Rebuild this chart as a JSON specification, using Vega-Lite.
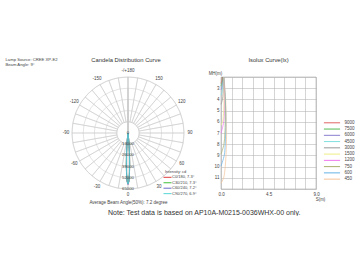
{
  "$schema": "https://vega.github.io/schema/vega-lite/v6.json",
  "background": "white",
  "padding": {"left": 5, "top": 56, "right": 0, "bottom": 0},
  "config": {
    "font": "Liberation Sans",
    "view": {"stroke": null},
    "axis": {"labelFont": "Liberation Sans", "titleFont": "Liberation Sans", "labelColor": "#444", "titleColor": "#444", "titleFontWeight": "normal"},
    "legend": {"labelFont": "Liberation Sans", "titleFont": "Liberation Sans", "labelColor": "#444", "titleColor": "#444", "titleFontWeight": "normal"},
    "title": {"font": "Liberation Sans", "fontWeight": "normal", "color": "#333"}
  },
  "title": {"text": "Note:  Test data is based on AP10A-M0215-0036WHX-00 only.", "orient": "bottom", "anchor": "start", "frame": "group", "fontSize": 7, "offset": 5, "dx": 36},
  "datasets": {
    "sec": [
      {"a": -180, "b": -170}, {"a": -170, "b": -160}, {"a": -160, "b": -150}, {"a": -150, "b": -140},
      {"a": -140, "b": -130}, {"a": -130, "b": -120}, {"a": -120, "b": -110}, {"a": -110, "b": -100},
      {"a": -100, "b": -90}, {"a": -90, "b": -80}, {"a": -80, "b": -70}, {"a": -70, "b": -60},
      {"a": -60, "b": -50}, {"a": -50, "b": -40}, {"a": -40, "b": -30}, {"a": -30, "b": -20},
      {"a": -20, "b": -10}, {"a": -10, "b": 0}, {"a": 0, "b": 10}, {"a": 10, "b": 20},
      {"a": 20, "b": 30}, {"a": 30, "b": 40}, {"a": 40, "b": 50}, {"a": 50, "b": 60},
      {"a": 60, "b": 70}, {"a": 70, "b": 80}, {"a": 80, "b": 90}, {"a": 90, "b": 100},
      {"a": 100, "b": 110}, {"a": 110, "b": 120}, {"a": 120, "b": 130}, {"a": 130, "b": 140},
      {"a": 140, "b": 150}, {"a": 150, "b": 160}, {"a": 160, "b": 170}, {"a": 170, "b": 180}
    ],
    "rings": [{"r": 13000}, {"r": 26000}, {"r": 39000}, {"r": 52000}, {"r": 65000}],
    "alab": [
      {"a": 180, "t": "-/+180"}, {"a": 150, "t": "150"}, {"a": 120, "t": "120"}, {"a": 90, "t": "90"},
      {"a": 60, "t": "60"}, {"a": 30, "t": "30"}, {"a": 0, "t": "0"}, {"a": -30, "t": "-30"},
      {"a": -60, "t": "-60"}, {"a": -90, "t": "-90"}, {"a": -120, "t": "-120"}, {"a": -150, "t": "-150"}
    ],
    "rlab": [{"r": 0}, {"r": 13000}, {"r": 26000}, {"r": 39000}, {"r": 52000}, {"r": 65000}],
    "beam": [
      {"c": "C0/180, 7.3°", "o": 1, "x": -57, "y": -322},
      {"c": "C0/180, 7.3°", "o": 2, "x": -298, "y": -2121},
      {"c": "C0/180, 7.3°", "o": 3, "x": -958, "y": -9113},
      {"c": "C0/180, 7.3°", "o": 4, "x": -1411, "y": -16122},
      {"c": "C0/180, 7.3°", "o": 5, "x": -1806, "y": -25820},
      {"c": "C0/180, 7.3°", "o": 6, "x": -1949, "y": -37196},
      {"c": "C0/180, 7.3°", "o": 7, "x": -1686, "y": -48285},
      {"c": "C0/180, 7.3°", "o": 8, "x": -985, "y": -56457},
      {"c": "C0/180, 7.3°", "o": 9, "x": 0, "y": -59500},
      {"c": "C0/180, 7.3°", "o": 10, "x": 985, "y": -56457},
      {"c": "C0/180, 7.3°", "o": 11, "x": 1686, "y": -48285},
      {"c": "C0/180, 7.3°", "o": 12, "x": 1949, "y": -37196},
      {"c": "C0/180, 7.3°", "o": 13, "x": 1806, "y": -25820},
      {"c": "C0/180, 7.3°", "o": 14, "x": 1411, "y": -16122},
      {"c": "C0/180, 7.3°", "o": 15, "x": 958, "y": -9113},
      {"c": "C0/180, 7.3°", "o": 16, "x": 298, "y": -2121},
      {"c": "C0/180, 7.3°", "o": 17, "x": 57, "y": -322},
      {"c": "C30/210, 7.3°", "o": 1, "x": -56, "y": -318},
      {"c": "C30/210, 7.3°", "o": 2, "x": -295, "y": -2096},
      {"c": "C30/210, 7.3°", "o": 3, "x": -946, "y": -9005},
      {"c": "C30/210, 7.3°", "o": 4, "x": -1394, "y": -15932},
      {"c": "C30/210, 7.3°", "o": 5, "x": -1784, "y": -25516},
      {"c": "C30/210, 7.3°", "o": 6, "x": -1926, "y": -36758},
      {"c": "C30/210, 7.3°", "o": 7, "x": -1666, "y": -47716},
      {"c": "C30/210, 7.3°", "o": 8, "x": -974, "y": -55791},
      {"c": "C30/210, 7.3°", "o": 9, "x": 0, "y": -58800},
      {"c": "C30/210, 7.3°", "o": 10, "x": 974, "y": -55791},
      {"c": "C30/210, 7.3°", "o": 11, "x": 1666, "y": -47716},
      {"c": "C30/210, 7.3°", "o": 12, "x": 1926, "y": -36758},
      {"c": "C30/210, 7.3°", "o": 13, "x": 1784, "y": -25516},
      {"c": "C30/210, 7.3°", "o": 14, "x": 1394, "y": -15932},
      {"c": "C30/210, 7.3°", "o": 15, "x": 946, "y": -9005},
      {"c": "C30/210, 7.3°", "o": 16, "x": 295, "y": -2096},
      {"c": "C30/210, 7.3°", "o": 17, "x": 56, "y": -318},
      {"c": "C60/240, 7.2°", "o": 1, "x": -49, "y": -280},
      {"c": "C60/240, 7.2°", "o": 2, "x": -272, "y": -1936},
      {"c": "C60/240, 7.2°", "o": 3, "x": -913, "y": -8683},
      {"c": "C60/240, 7.2°", "o": 4, "x": -1371, "y": -15667},
      {"c": "C60/240, 7.2°", "o": 5, "x": -1773, "y": -25353},
      {"c": "C60/240, 7.2°", "o": 6, "x": -1934, "y": -36905},
      {"c": "C60/240, 7.2°", "o": 7, "x": -1684, "y": -48230},
      {"c": "C60/240, 7.2°", "o": 8, "x": -989, "y": -56681},
      {"c": "C60/240, 7.2°", "o": 9, "x": 0, "y": -59800},
      {"c": "C60/240, 7.2°", "o": 10, "x": 989, "y": -56681},
      {"c": "C60/240, 7.2°", "o": 11, "x": 1684, "y": -48230},
      {"c": "C60/240, 7.2°", "o": 12, "x": 1934, "y": -36905},
      {"c": "C60/240, 7.2°", "o": 13, "x": 1773, "y": -25353},
      {"c": "C60/240, 7.2°", "o": 14, "x": 1371, "y": -15667},
      {"c": "C60/240, 7.2°", "o": 15, "x": 913, "y": -8683},
      {"c": "C60/240, 7.2°", "o": 16, "x": 272, "y": -1936},
      {"c": "C60/240, 7.2°", "o": 17, "x": 49, "y": -280},
      {"c": "C90/270, 6.9°", "o": 1, "x": -31, "y": -175},
      {"c": "C90/270, 6.9°", "o": 2, "x": -198, "y": -1407},
      {"c": "C90/270, 6.9°", "o": 3, "x": -761, "y": -7242},
      {"c": "C90/270, 6.9°", "o": 4, "x": -1202, "y": -13741},
      {"c": "C90/270, 6.9°", "o": 5, "x": -1627, "y": -23268},
      {"c": "C90/270, 6.9°", "o": 6, "x": -1834, "y": -34998},
      {"c": "C90/270, 6.9°", "o": 7, "x": -1636, "y": -46857},
      {"c": "C90/270, 6.9°", "o": 8, "x": -974, "y": -55817},
      {"c": "C90/270, 6.9°", "o": 9, "x": 0, "y": -59200},
      {"c": "C90/270, 6.9°", "o": 10, "x": 974, "y": -55817},
      {"c": "C90/270, 6.9°", "o": 11, "x": 1636, "y": -46857},
      {"c": "C90/270, 6.9°", "o": 12, "x": 1834, "y": -34998},
      {"c": "C90/270, 6.9°", "o": 13, "x": 1627, "y": -23268},
      {"c": "C90/270, 6.9°", "o": 14, "x": 1202, "y": -13741},
      {"c": "C90/270, 6.9°", "o": 15, "x": 761, "y": -7242},
      {"c": "C90/270, 6.9°", "o": 16, "x": 198, "y": -1407},
      {"c": "C90/270, 6.9°", "o": 17, "x": 31, "y": -175}
    ],
    "iso": [
      {"e": "450", "s": 0, "h": 11.5}, {"e": "450", "s": 0.25, "h": 11}, {"e": "450", "s": 0.4, "h": 10},
      {"e": "450", "s": 0.515, "h": 8}, {"e": "450", "s": 0.518, "h": 6}, {"e": "450", "s": 0.441, "h": 4}, {"e": "450", "s": 0.284, "h": 2},
      {"e": "600", "s": 0, "h": 9.96}, {"e": "600", "s": 0.306, "h": 9}, {"e": "600", "s": 0.4, "h": 8},
      {"e": "600", "s": 0.457, "h": 6}, {"e": "600", "s": 0.41, "h": 4}, {"e": "600", "s": 0.272, "h": 2},
      {"e": "750", "s": 0, "h": 8.91}, {"e": "750", "s": 0.28, "h": 8}, {"e": "750", "s": 0.367, "h": 7},
      {"e": "750", "s": 0.403, "h": 6}, {"e": "750", "s": 0.383, "h": 4}, {"e": "750", "s": 0.263, "h": 2},
      {"e": "1200", "s": 0, "h": 7.04}, {"e": "1200", "s": 0.257, "h": 6}, {"e": "1200", "s": 0.313, "h": 5},
      {"e": "1200", "s": 0.322, "h": 4}, {"e": "1200", "s": 0.297, "h": 3}, {"e": "1200", "s": 0.241, "h": 2},
      {"e": "1500", "s": 0, "h": 6.3}, {"e": "1500", "s": 0.141, "h": 6}, {"e": "1500", "s": 0.257, "h": 5},
      {"e": "1500", "s": 0.288, "h": 4}, {"e": "1500", "s": 0.277, "h": 3}, {"e": "1500", "s": 0.23, "h": 2},
      {"e": "3000", "s": 0, "h": 4.45}, {"e": "3000", "s": 0.14, "h": 4}, {"e": "3000", "s": 0.184, "h": 3.5},
      {"e": "3000", "s": 0.202, "h": 3}, {"e": "3000", "s": 0.203, "h": 2.5}, {"e": "3000", "s": 0.192, "h": 2},
      {"e": "4500", "s": 0, "h": 3.64}, {"e": "4500", "s": 0.11, "h": 3.3}, {"e": "4500", "s": 0.141, "h": 3},
      {"e": "4500", "s": 0.164, "h": 2.5}, {"e": "4500", "s": 0.166, "h": 2},
      {"e": "6000", "s": 0, "h": 3.15}, {"e": "6000", "s": 0.103, "h": 2.8}, {"e": "6000", "s": 0.128, "h": 2.5}, {"e": "6000", "s": 0.144, "h": 2},
      {"e": "7500", "s": 0, "h": 2.82}, {"e": "7500", "s": 0.103, "h": 2.4}, {"e": "7500", "s": 0.125, "h": 2},
      {"e": "9000", "s": 0, "h": 2.57}, {"e": "9000", "s": 0.082, "h": 2.3}, {"e": "9000", "s": 0.107, "h": 2}
    ]
  },
  "spacing": 37,
  "bounds": "flush",
  "resolve": {"scale": {"color": "independent"}, "legend": {"color": "independent"}},
  "hconcat": [
    {
      "width": 112,
      "height": 112,
      "title": {"text": "Candela Distribution Curve", "fontSize": 5.8, "offset": -6, "dx": -2, "frame": "group"},
      "layer": [
        {
          "data": {"name": "sec"},
          "mark": {"type": "arc", "filled": false, "color": "#c8c8c8", "strokeWidth": 0.5},
          "encoding": {
            "theta": {"field": "a", "type": "quantitative", "stack": null, "scale": {"type": "linear", "domain": [180, -180], "range": [0, 6.283185307]}},
            "theta2": {"field": "b"},
            "radius": {"datum": 65000, "type": "quantitative", "stack": null, "scale": {"type": "linear", "domain": [0, 65000], "range": [0, 56], "zero": true}},
            "radius2": {"datum": 13000}
          }
        },
        {
          "data": {"name": "rings"},
          "mark": {"type": "arc", "filled": false, "color": "#c8c8c8", "strokeWidth": 0.5},
          "encoding": {
            "theta": {"datum": 180, "type": "quantitative", "stack": null, "scale": {"type": "linear", "domain": [180, -180], "range": [0, 6.283185307]}},
            "theta2": {"datum": -180},
            "radius": {"field": "r", "type": "quantitative", "stack": null, "scale": {"type": "linear", "domain": [0, 65000], "range": [0, 56], "zero": true}}
          }
        },
        {
          "data": {"name": "beam"},
          "mark": {"type": "line", "strokeWidth": 0.8},
          "encoding": {
            "x": {"field": "x", "type": "quantitative", "scale": {"domain": [-65000, 65000], "nice": false, "zero": false},
              "axis": {"title": "Average Beam Angle(50%): 7.2 degree", "labels": false, "ticks": false, "domain": false, "grid": false, "titleFontSize": 4.5, "titlePadding": 10}},
            "y": {"field": "y", "type": "quantitative", "scale": {"domain": [-65000, 65000], "nice": false, "zero": false},
              "axis": {"title": ["Lamp Source: CREE XP-E2", "Beam Angle: 9°"], "labels": false, "ticks": false, "domain": false, "grid": false,
                "titleAngle": 0, "titleAlign": "left", "titleBaseline": "top", "titleX": -67, "titleY": -20, "titleFontSize": 4.2, "titleLineHeight": 5}},
            "order": {"field": "o", "type": "quantitative"},
            "color": {"field": "c", "type": "nominal",
              "scale": {"domain": ["C0/180, 7.3°", "C30/210, 7.3°", "C60/240, 7.2°", "C90/270, 6.9°"], "range": ["#e03c3c", "#3cc03c", "#6a6acc", "#55d6d6"]},
              "legend": {"title": "Intensity: cd", "orient": "none", "legendX": 93, "legendY": 93.2, "symbolType": "M-2,0H2", "symbolSize": 16, "symbolStrokeWidth": 1,
                "labelFontSize": 4, "titleFontSize": 4, "rowPadding": 0.45, "titlePadding": 0.6, "labelOffset": 2, "padding": 0}}
          }
        },
        {
          "data": {"name": "alab"},
          "mark": {"type": "text", "fontSize": 4.5, "color": "#444"},
          "encoding": {
            "theta": {"field": "a", "type": "quantitative", "stack": null, "scale": {"type": "linear", "domain": [180, -180], "range": [0, 6.283185307]}},
            "radius": {"datum": 72000, "type": "quantitative", "stack": null, "scale": {"type": "linear", "domain": [0, 65000], "range": [0, 56], "zero": true}},
            "text": {"field": "t"}
          }
        },
        {
          "data": {"name": "rlab"},
          "mark": {"type": "text", "fontSize": 4.3, "color": "#444"},
          "encoding": {
            "theta": {"datum": 0, "type": "quantitative", "stack": null, "scale": {"type": "linear", "domain": [180, -180], "range": [0, 6.283185307]}},
            "radius": {"field": "r", "type": "quantitative", "stack": null, "scale": {"type": "linear", "domain": [0, 65000], "range": [0, 56], "zero": true}},
            "text": {"field": "r", "format": "d"}
          }
        }
      ]
    },
    {
      "width": 95,
      "height": 112,
      "view": {"stroke": "#999", "strokeWidth": 0.6},
      "title": {"text": "Isolux Curve(lx)", "fontSize": 5.8, "offset": 7, "frame": "group"},
      "data": {"name": "iso"},
      "mark": {"type": "line", "strokeWidth": 0.7, "interpolate": "catmull-rom"},
      "encoding": {
        "x": {"field": "s", "type": "quantitative", "scale": {"domain": [0, 9], "nice": false, "zero": false},
          "axis": {"values": [0, 1, 2, 3, 4, 4.5, 5, 6, 7, 8, 9],
            "labelExpr": "datum.value == 0 || datum.value == 4.5 || datum.value == 9 ? format(datum.value, '.1f') : ''",
            "gridColor": "#aaa", "gridWidth": 0.5,
            "gridOpacity": {"condition": {"test": "datum.value == 4.5", "value": 0}, "value": 1},
            "ticks": false, "domain": false, "labelFontSize": 4.5, "labelPadding": 2, "labelFlush": false, "labelOverlap": false,
            "title": "S(m)", "titleFontSize": 4.5, "titleX": 99, "titleY": 10, "titleAlign": "center", "titleBaseline": "middle"}},
        "y": {"field": "h", "type": "quantitative", "scale": {"domain": [2, 12], "reverse": true, "nice": false, "zero": false},
          "axis": {"values": [2, 3, 4, 5, 6, 7, 8, 9, 10, 11, 12],
            "labelExpr": "datum.value == 2 || datum.value == 12 ? '' : datum.label",
            "gridColor": "#aaa", "gridWidth": 0.5, "ticks": false, "domain": false, "labelFontSize": 4.5, "labelPadding": 2, "labelOverlap": false,
            "title": "MH(m)", "titleAngle": 0, "titleX": -6, "titleY": -4, "titleAlign": "center", "titleBaseline": "middle", "titleFontSize": 4.5}},
        "order": {"field": "h", "type": "quantitative"},
        "color": {"field": "e", "type": "nominal",
          "scale": {"domain": ["9000", "7500", "6000", "4500", "3000", "1500", "1200", "750", "600", "450"],
            "range": ["#e06666", "#55bb55", "#8a7fd0", "#7fdfe0", "#999999", "#eeee88", "#ee77ee", "#aab070", "#66b3e6", "#f3c49a"]},
          "legend": {"title": null, "orient": "none", "legendX": 107, "legendY": 41.8, "symbolType": "M-2.5,0H2.5", "symbolSize": 42, "symbolStrokeWidth": 1,
            "labelFontSize": 4.5, "rowPadding": 0.26, "labelOffset": 8.6, "padding": 0}}
      }
    }
  ]
}
